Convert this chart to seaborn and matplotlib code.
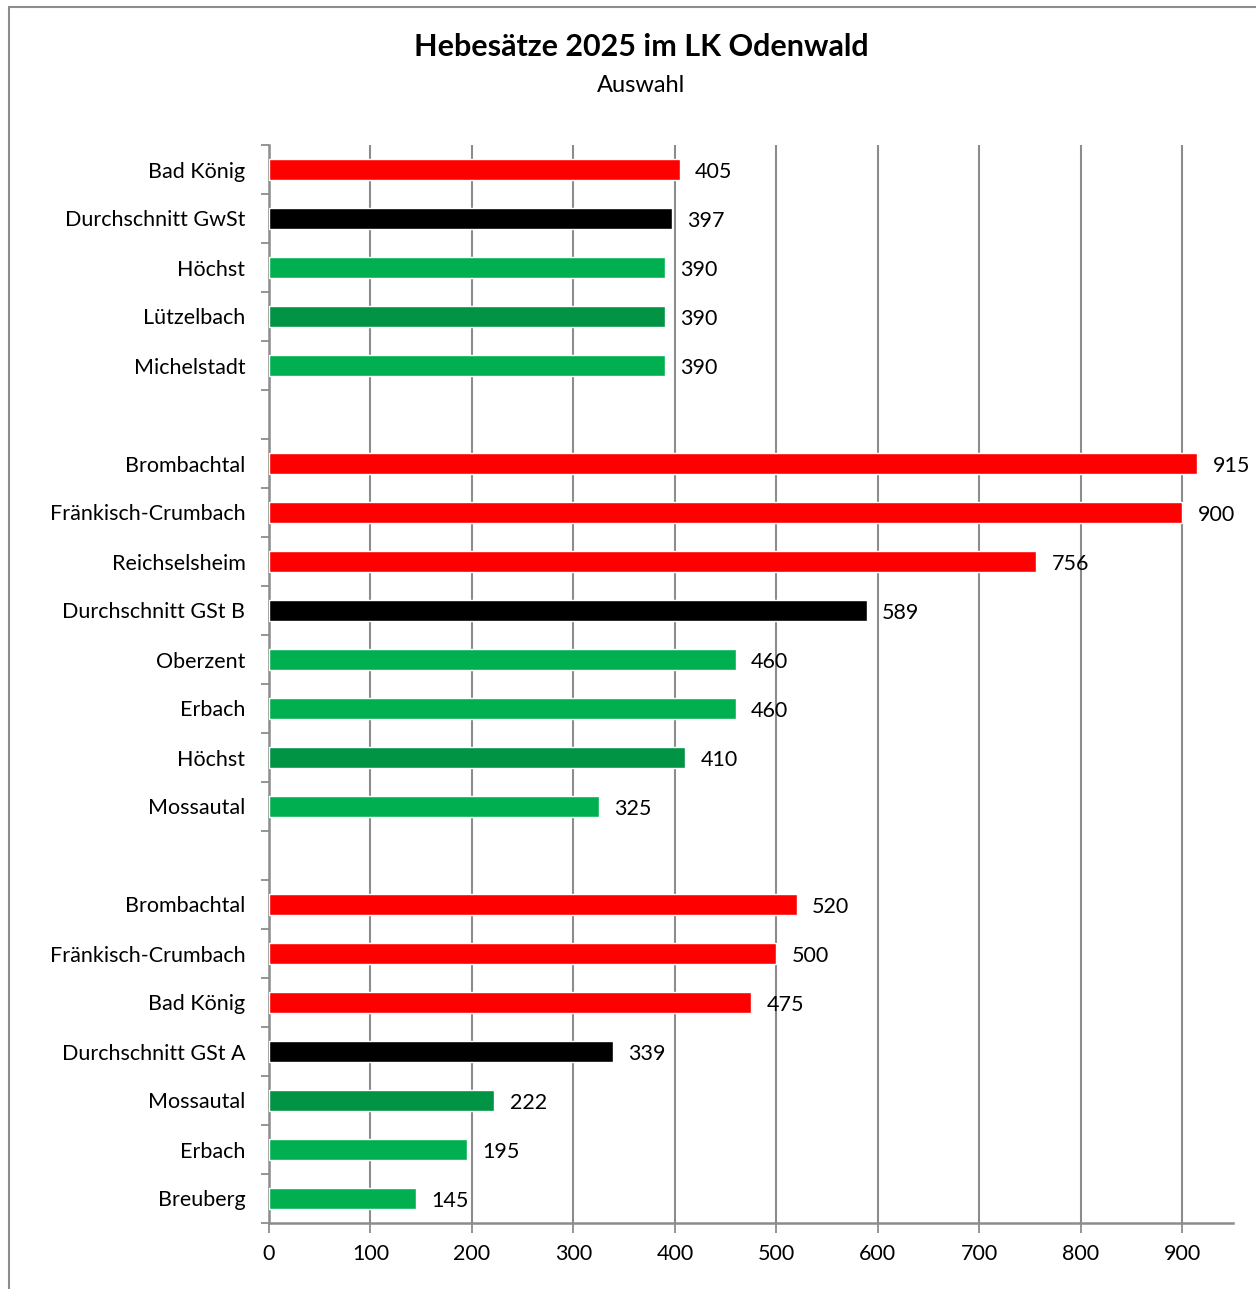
import numpy as np
import pandas as pd
import matplotlib
matplotlib.use("Agg")
import matplotlib.pyplot as plt
from matplotlib.patches import Rectangle
from matplotlib.ticker import MultipleLocator, FixedLocator
import seaborn as sns

# Daten (von oben nach unten), "" = Leerzeile zwischen den Gruppen
gemeinden = ["Bad König", "Durchschnitt GwSt", "Höchst", "Lützelbach", "Michelstadt", "",
             "Brombachtal", "Fränkisch-Crumbach", "Reichselsheim", "Durchschnitt GSt B",
             "Oberzent", "Erbach", "Höchst", "Mossautal", "",
             "Brombachtal", "Fränkisch-Crumbach", "Bad König", "Durchschnitt GSt A",
             "Mossautal", "Erbach", "Breuberg"]
hebesaetze = [405, 397, 390, 390, 390, np.nan,
              915, 900, 756, 589, 460, 460, 410, 325, np.nan,
              520, 500, 475, 339, 222, 195, 145]
gruppe = ["rot", "schnitt", "hell", "dunkel", "hell", "",
          "rot", "rot", "rot", "schnitt", "hell", "hell", "dunkel", "hell", "",
          "rot", "rot", "rot", "schnitt", "dunkel", "hell", "hell"]

farben = {"rot": "#FF0000", "schnitt": "#000000", "hell": "#00B050", "dunkel": "#009444"}

sns.set_style("white")
plt.rcParams["font.family"] = ["Lato", "DejaVu Sans"]
plt.rcParams["text.color"] = "black"
plt.rcParams["xtick.color"] = "black"
plt.rcParams["ytick.color"] = "black"

slots = ["s%02d" % i for i in range(len(gemeinden))]
df = pd.DataFrame({"slot": slots, "wert": hebesaetze, "gruppe": gruppe})
df = df[df["gruppe"] != ""]

fig = plt.figure(figsize=(12.56, 12.89), dpi=100)
ax = fig.add_axes([269 / 1256, 1 - 1223 / 1289, (1233 - 269) / 1256, (1223 - 145) / 1289])

sns.barplot(data=df, x="wert", y="slot", hue="gruppe", order=slots, palette=farben,
            dodge=False, legend=False, width=0.41, saturation=1, ax=ax, zorder=3)

# Werte rechts neben den Balken, leicht unter der Balkenmitte
for cont in ax.containers:
    for t in ax.bar_label(cont, fmt="%d", padding=11, fontsize=15.5, color="black"):
        t.xyann = (t.xyann[0], -2)

ax.set_xlim(0, 950)
ax.set_ylim(len(slots) - 0.5, -0.5)
ax.set_xlabel("")
ax.set_ylabel("")
ax.xaxis.set_major_locator(MultipleLocator(100))
ax.grid(axis="x", color="#8c8c8c", linewidth=1.5, zorder=0)
ax.set_axisbelow(True)

ax.set_yticks(range(len(slots)))
ax.set_yticklabels(gemeinden)
ax.yaxis.set_minor_locator(FixedLocator(np.arange(-0.5, len(slots), 1.0)))
ax.tick_params(axis="y", which="major", length=0, pad=17, labelsize=15.5)
ax.tick_params(axis="y", which="minor", length=6, width=1.3, color="#8c8c8c", left=True)
ax.tick_params(axis="x", which="major", length=7, width=1.3, color="#8c8c8c",
               bottom=True, pad=8, labelsize=15.5)
for lab in ax.get_xticklabels():
    lab.set_color("black")

for side in ["top", "right"]:
    ax.spines[side].set_visible(False)
for side in ["left", "bottom"]:
    ax.spines[side].set_color("#8c8c8c")
    ax.spines[side].set_linewidth(1.8)

fig.text(641 / 1256, 1 - 47 / 1289, "Hebesätze 2025 im LK Odenwald", ha="center", va="center",
         fontsize=22, fontweight="bold")
fig.text(641 / 1256, 1 - 85 / 1289, "Auswahl", ha="center", va="center", fontsize=17)

fig.patches.append(Rectangle((9 / 1256, -0.1), 1.2, 1.1 - 7 / 1289, transform=fig.transFigure,
                             fill=False, edgecolor="#8c8c8c", linewidth=1.5))

fig.savefig("out.png", dpi=100, facecolor="white")
